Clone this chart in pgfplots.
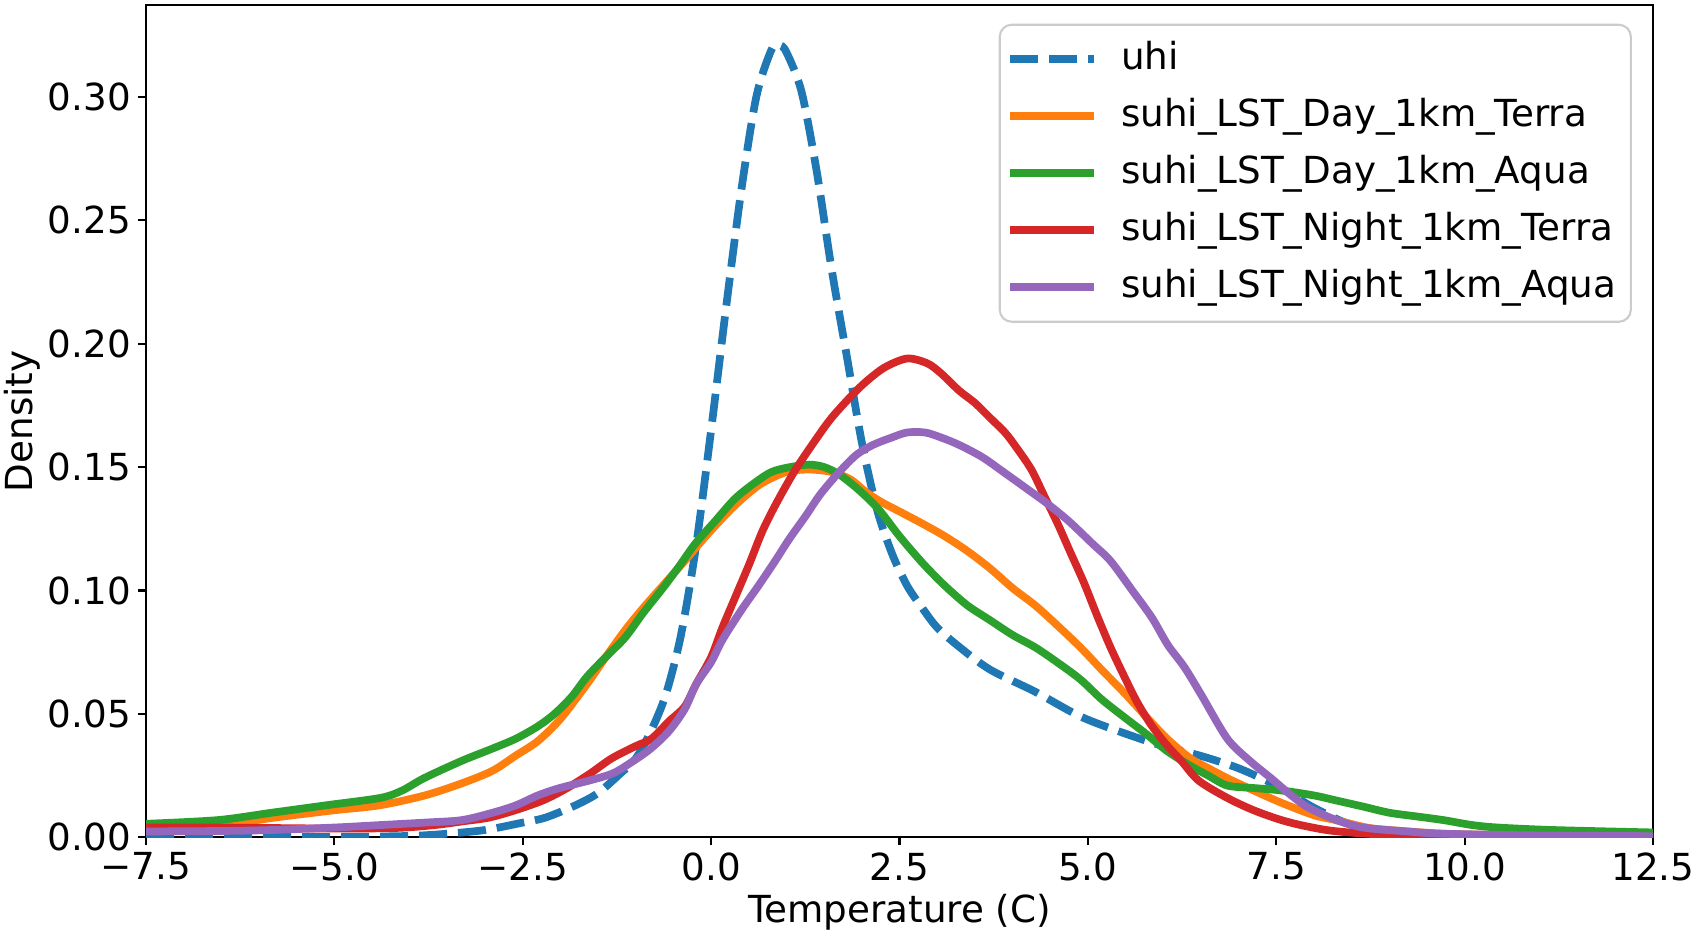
\documentclass[border=0pt]{standalone}
\usepackage{fontspec}
\setmainfont{DejaVu Sans}
\usepackage{pgfplots}
\usepackage{pgfplotstable}
\pgfplotsset{compat=1.18}

\definecolor{c0}{HTML}{1F77B4}
\definecolor{c1}{HTML}{FF7F0E}
\definecolor{c2}{HTML}{2CA02C}
\definecolor{c3}{HTML}{D62728}
\definecolor{c4}{HTML}{9467BD}
\newcommand{\fs}{\fontsize{10.6pt}{12.7pt}\selectfont}

% kernel density estimates, read off the reference
\pgfplotstableread{
x y
-7.5 0.0
-5.0 0.0002
-4.0 0.0006
-3.5 0.0015
-3.0 0.003
-2.5 0.006
-2.2 0.008
-1.8 0.013
-1.5 0.018
-1.2 0.026
-1.0 0.032
-0.8 0.043
-0.6 0.058
-0.4 0.082
-0.2 0.118
0.0 0.165
0.2 0.215
0.4 0.262
0.6 0.300
0.8 0.319
0.9 0.321
1.0 0.318
1.2 0.302
1.4 0.270
1.6 0.230
1.8 0.195
2.0 0.160
2.2 0.133
2.4 0.115
2.6 0.102
2.8 0.093
3.0 0.085
3.3 0.077
3.7 0.068
4.3 0.059
4.9 0.049
5.5 0.042
6.0 0.037
6.5 0.033
7.0 0.028
7.5 0.021
8.0 0.012
8.5 0.005
9.0 0.002
10.0 0.0005
12.5 0.0
}\uhi

\pgfplotstableread{
x y
-7.5 0.003
-6.5 0.005
-5.8 0.008
-5.0 0.011
-4.4 0.013
-3.8 0.017
-3.3 0.022
-2.9 0.027
-2.6 0.033
-2.3 0.039
-2.0 0.048
-1.65 0.062
-1.4 0.073
-1.14 0.084
-0.9 0.093
-0.64 0.102
-0.35 0.112
-0.07 0.122
0.3 0.134
0.65 0.143
1.0 0.148
1.3 0.149
1.6 0.148
1.85 0.145
2.05 0.140
2.25 0.136
2.5 0.132
2.81 0.127
3.1 0.122
3.4 0.116
3.7 0.109
4.0 0.101
4.3 0.094
4.59 0.086
4.9 0.077
5.18 0.068
5.5 0.058
5.77 0.049
6.05 0.040
6.36 0.032
6.6 0.028
6.85 0.024
7.2 0.019
7.57 0.014
8.0 0.009
8.29 0.007
8.7 0.004
9.0 0.003
9.7 0.0015
10.44 0.001
11.5 0.0005
12.5 0.0003
}\dayterra

\pgfplotstableread{
x y
-7.5 0.0055
-6.55 0.007
-5.83 0.010
-5.11 0.013
-4.39 0.016
-4.1 0.019
-3.81 0.024
-3.31 0.031
-2.9 0.036
-2.59 0.040
-2.3 0.045
-2.08 0.050
-1.85 0.057
-1.65 0.065
-1.4 0.073
-1.14 0.081
-0.9 0.091
-0.64 0.101
-0.42 0.110
-0.21 0.119
0.05 0.128
0.31 0.137
0.55 0.143
0.8 0.148
1.05 0.150
1.3 0.151
1.5 0.150
1.7 0.147
1.95 0.141
2.22 0.133
2.5 0.122
2.81 0.111
3.1 0.102
3.4 0.094
3.7 0.088
4.0 0.082
4.3 0.077
4.59 0.071
4.9 0.064
5.18 0.056
5.47 0.049
5.77 0.042
6.05 0.035
6.36 0.029
6.6 0.025
6.85 0.021
7.2 0.020
7.57 0.019
8.0 0.017
8.29 0.015
8.65 0.0125
9.0 0.010
9.36 0.0085
9.72 0.007
10.1 0.005
10.44 0.004
11.16 0.003
12.5 0.002
}\dayaqua

\pgfplotstableread{
x y
-7.5 0.004
-6.5 0.004
-5.1 0.0036
-4.2 0.0038
-3.67 0.005
-3.3 0.0065
-2.95 0.008
-2.6 0.011
-2.23 0.015
-1.91 0.020
-1.6 0.026
-1.32 0.032
-1.0 0.037
-0.79 0.040
-0.56 0.047
-0.35 0.053
-0.2 0.062
0.0 0.073
0.15 0.085
0.33 0.098
0.51 0.111
0.68 0.124
0.86 0.135
1.1 0.148
1.34 0.159
1.6 0.170
1.93 0.181
2.15 0.187
2.34 0.191
2.61 0.194
2.87 0.192
3.05 0.188
3.29 0.181
3.5 0.176
3.7 0.170
3.9 0.164
4.05 0.158
4.25 0.149
4.41 0.139
4.6 0.127
4.76 0.116
4.95 0.103
5.12 0.090
5.3 0.077
5.47 0.066
5.65 0.055
5.83 0.046
6.03 0.038
6.24 0.031
6.47 0.023
6.85 0.016
7.2 0.011
7.57 0.007
7.9 0.0045
8.29 0.0025
9.0 0.001
10.0 0.0004
12.5 0.0001
}\nightterra

\pgfplotstableread{
x y
-7.5 0.0024
-6.5 0.0026
-5.83 0.003
-5.0 0.004
-4.39 0.005
-3.8 0.006
-3.31 0.007
-2.9 0.010
-2.59 0.013
-2.3 0.017
-2.01 0.020
-1.62 0.023
-1.3 0.026
-1.03 0.031
-0.8 0.036
-0.56 0.043
-0.35 0.052
-0.2 0.062
0.0 0.071
0.15 0.080
0.4 0.092
0.63 0.102
0.85 0.112
1.04 0.121
1.25 0.130
1.45 0.139
1.7 0.148
1.93 0.155
2.15 0.159
2.4 0.162
2.6 0.164
2.84 0.164
3.05 0.162
3.29 0.159
3.6 0.154
3.88 0.148
4.2 0.141
4.47 0.135
4.75 0.128
5.06 0.119
5.3 0.112
5.59 0.100
5.85 0.089
6.06 0.078
6.28 0.069
6.5 0.058
6.85 0.040
7.15 0.031
7.43 0.024
7.7 0.017
7.93 0.012
8.3 0.007
8.65 0.004
9.2 0.0025
9.72 0.0015
11.0 0.0008
12.5 0.0005
}\nightaqua

\begin{document}
\begin{tikzpicture}
\useasboundingbox (-14.6mm,-9.4mm) rectangle (155.1mm,83.74mm);
\begin{axis}[
    scale only axis,
    width=150.7mm, height=83.2mm,
    xmin=-7.5, xmax=12.5,
    ymin=0, ymax=0.337,
    xtick={-7.5,-5,-2.5,0,2.5,5,7.5,10,12.5},
    xticklabels={−7.5,−5.0,−2.5,0.0,2.5,5.0,7.5,10.0,12.5},
    ytick={0,0.05,0.1,0.15,0.2,0.25,0.3},
    yticklabels={0.00,0.05,0.10,0.15,0.20,0.25,0.30},
    xtick pos=bottom, ytick pos=left,
    tick align=outside,
    major tick length=0.8mm,
    tick style={black, line width=0.6pt},
    axis line style={line width=0.6pt},
    tick label style={font=\fs},
    label style={font=\fs},
    xticklabel shift=-1.5pt,
    yticklabel shift=-1.5pt,
    xlabel shift=-3pt,
    ylabel shift=-4.7pt,
    xlabel={Temperature (C)},
    ylabel={Density},
    every axis plot/.append style={line width=2.2pt, smooth, tension=0.5},
    legend image code/.code={\path[draw=none] (0mm,0mm) -- (10.3mm,0mm); \draw[#1] (0mm,0mm) -- (8.4mm,0mm);},
    legend cell align=left,
    legend style={
        at={(0.986,0.978)}, anchor=north east,
        draw=black!20, line width=0.6pt, rounded corners=1.2mm, fill=white,
        inner xsep=0.65mm, inner ysep=0.6mm,
        font=\fs,
        nodes={inner xsep=0.8mm, inner ysep=0.95mm, text height=2.9mm, text depth=0.9mm},
        row sep=0pt,
    },
]
\addplot[c0, dash pattern=on 8pt off 3.1pt] table {\uhi};
\addlegendentry{uhi}
\addplot[c1] table {\dayterra};
\addlegendentry{suhi\_LST\_Day\_1km\_Terra}
\addplot[c2] table {\dayaqua};
\addlegendentry{suhi\_LST\_Day\_1km\_Aqua}
\addplot[c3] table {\nightterra};
\addlegendentry{suhi\_LST\_Night\_1km\_Terra}
\addplot[c4] table {\nightaqua};
\addlegendentry{suhi\_LST\_Night\_1km\_Aqua}
\end{axis}
\end{tikzpicture}
\end{document}
